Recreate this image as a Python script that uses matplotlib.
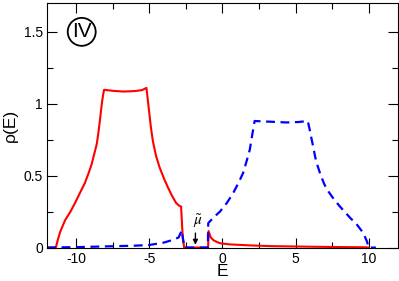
import matplotlib
matplotlib.use("Agg")
import matplotlib.pyplot as plt
from matplotlib.ticker import MultipleLocator, FormatStrFormatter

plt.rcParams['font.family'] = ['Liberation Sans', 'DejaVu Sans']
plt.rcParams['axes.unicode_minus'] = False
plt.rcParams['mathtext.fontset'] = 'stix'

# red curve (solid)
E_red = [-12, -11.4, -11.25, -11.1, -10.77, -10.4, -10.09, -9.75, -9.41, -9.15, -8.95, -8.75,
         -8.6, -8.5, -8.39, -8.3, -8.23, -8.15, -8.1,
         -7.5, -6.8, -6.0, -5.5, -5.2, -5.1, -5.0, -4.9, -4.76, -4.55, -4.31, -4.0, -3.74,
         -3.45, -3.17, -2.95, -2.83, -2.72, -2.62,
         -0.98, -0.95, -0.8, -0.6, -0.4, -0.17, 0.5, 1.9, 3.3, 5.3, 7.5, 9.8, 10.0]
rho_red = [0, 0, 0.06, 0.11, 0.19, 0.25, 0.31, 0.38, 0.45, 0.52, 0.58, 0.66,
           0.72, 0.79, 0.88, 0.96, 1.02, 1.07, 1.097,
           1.09, 1.085, 1.088, 1.095, 1.11, 1.02, 0.93, 0.84, 0.74, 0.64, 0.56, 0.48, 0.42,
           0.36, 0.31, 0.29, 0.285, 0.076, 0,
           0, 0.115, 0.07, 0.05, 0.04, 0.03, 0.022, 0.015, 0.01, 0.007, 0.004, 0.002, 0]

# blue curve (dashed)
E_blue = [-12, -10, -8, -6, -5, -4, -3.5, -3.0, -2.78, -2.7, -2.6, -1.0,
          -0.97, -0.6, -0.17, 0.3, 0.74, 1.1, 1.42, 1.65, 1.87, 2.0, 2.1, 2.2,
          3.3, 4.37, 5.2, 5.84, 5.95, 6.07, 6.25, 6.41, 6.7, 6.97, 7.25, 7.53, 8.0, 8.44,
          8.8, 9.12, 9.35, 9.57, 9.75, 9.9, 10.0, 10.5]
rho_blue = [0, 0.003, 0.008, 0.013, 0.018, 0.035, 0.05, 0.07, 0.12, 0.06, 0, 0,
            0.17, 0.21, 0.25, 0.31, 0.38, 0.45, 0.52, 0.60, 0.68, 0.76, 0.82, 0.88,
            0.875, 0.87, 0.873, 0.88, 0.83, 0.77, 0.68, 0.60, 0.51, 0.44, 0.39, 0.35, 0.29, 0.24,
            0.20, 0.17, 0.14, 0.11, 0.075, 0.04, 0, 0]

mu_tilde = -1.85

fig = plt.figure(figsize=(3.99, 2.81), dpi=100)
ax = fig.add_axes([0.118, 0.119, 0.879, 0.870])

ax.plot(E_red, rho_red, color='red', lw=1.5)
ax.plot(E_blue, rho_blue, color='blue', lw=1.6, ls=(0, (4, 2.5)))

ax.annotate('', xy=(mu_tilde, 0), xytext=(mu_tilde, 0.12),
            arrowprops=dict(arrowstyle='-|>', color='black', lw=1, mutation_scale=7))
ax.text(mu_tilde + 0.15, 0.185, r'$\tilde{\mu}$', fontsize=11, ha='center', va='center')

ax.text(-9.63, 1.5, 'IV', fontsize=15, ha='center', va='center',
        bbox=dict(boxstyle='circle,pad=0.2', fc='white', ec='black', lw=1.3))

ax.set_xlim(-12, 12)
ax.set_ylim(0, 1.7)
ax.xaxis.set_major_locator(MultipleLocator(5))
ax.xaxis.set_minor_locator(MultipleLocator(2.5))
ax.yaxis.set_major_locator(MultipleLocator(0.5))
ax.yaxis.set_minor_locator(MultipleLocator(0.25))
ax.yaxis.set_major_formatter(FormatStrFormatter('%g'))
ax.xaxis.set_major_formatter(FormatStrFormatter('%g'))
ax.tick_params(which='both', direction='in', top=True, right=True, labelsize=10, pad=3)
ax.tick_params(which='major', length=7, width=0.8)
ax.tick_params(which='minor', length=4, width=0.8)

ax.set_xlabel('E', fontsize=12.5, labelpad=-1)
ax.set_ylabel('ρ(E)', fontsize=12.5, labelpad=4)

fig.savefig('out.png', dpi=100)
